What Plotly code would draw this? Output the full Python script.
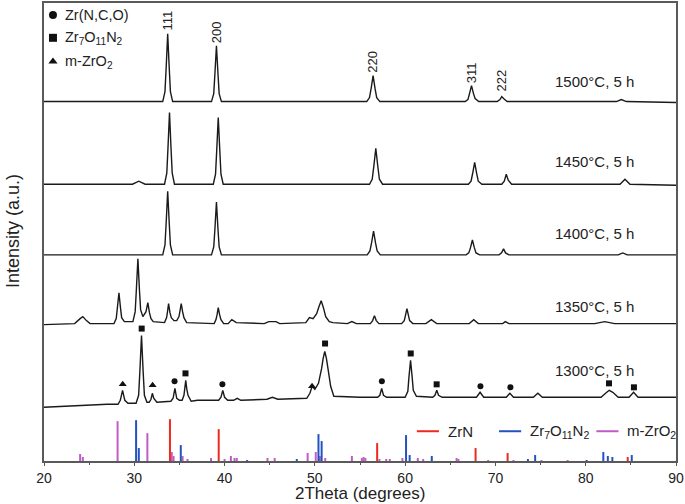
import plotly.graph_objects as go

# --- XRD traces (2theta, stacked intensity in a.u.) ---
X_1500 = [20,
          33.15, 33.4, 33.53, 33.7, 33.87, 34.0, 34.25,
          38.55, 38.8, 38.93, 39.1, 39.27, 39.4, 39.65,
          55.75, 56.05, 56.23, 56.45, 56.67, 56.85, 57.2,
          66.65, 66.95, 67.13, 67.35, 67.57, 67.75, 68.15,
          70.2, 70.5, 70.7, 70.9, 71.3,
          83.4, 83.95, 84.5, 90]
Y_1500 = [361,
          361, 371, 395, 429, 395, 371, 361,
          361, 369, 389, 417, 389, 369, 361,
          361, 365, 374, 387, 374, 365, 361,
          361, 363, 369, 377, 369, 364, 361,
          361, 363, 366, 364, 361,
          361, 363, 361, 360]

X_1450 = [20, 29.8, 30.5, 31.2,
          33.35, 33.6, 33.73, 33.9, 34.07, 34.2, 34.45,
          38.75, 39.0, 39.13, 39.3, 39.47, 39.6, 39.85,
          56.05, 56.35, 56.53, 56.75, 56.97, 57.15, 57.5,
          67.0, 67.3, 67.48, 67.7, 67.92, 68.1, 68.5,
          70.7, 70.98, 71.2, 71.42, 71.8,
          83.8, 84.35, 84.9, 90]
Y_1450 = [278, 278, 281, 278,
          278, 289, 314, 350, 314, 289, 278,
          278, 288, 312, 345, 312, 288, 278,
          278, 283, 296, 314, 296, 283, 278,
          278, 281, 289, 300, 289, 281, 278,
          278, 281, 288, 282, 278,
          278, 283, 278, 277]

X_1400 = [20,
          33.15, 33.4, 33.53, 33.7, 33.87, 34.0, 34.25,
          38.55, 38.8, 38.93, 39.1, 39.27, 39.4, 39.65,
          55.8, 56.1, 56.28, 56.5, 56.72, 56.9, 57.25,
          66.75, 67.05, 67.23, 67.45, 67.67, 67.85, 68.25,
          70.4, 70.68, 70.9, 71.12, 71.5,
          83.6, 84.1, 84.6, 90]
Y_1400 = [207,
          207, 217, 239, 271, 239, 217, 207,
          207, 215, 233, 260, 233, 215, 207,
          207, 211, 219, 231, 219, 211, 207,
          207, 209, 214, 222, 214, 209, 207,
          207, 209, 213, 209, 207,
          207, 209, 207, 207]

X_1350 = [20, 23.4, 24.0, 24.3, 24.7, 25.1,
          27.75, 28.0, 28.13, 28.3, 28.47, 28.6, 28.9,
          29.85, 30.1, 30.23, 30.4, 30.57, 30.7, 30.95,
          31.3, 31.5, 31.68, 31.85, 32.1,
          33.35, 33.58, 33.68, 33.8, 33.95, 34.1, 34.4,
          34.7, 34.95, 35.07, 35.2, 35.35, 35.5, 35.8,
          38.85, 39.05, 39.17, 39.3, 39.45, 39.6, 39.9,
          40.4, 40.8, 41.3, 44.4, 44.9, 45.7, 46.1,
          49.0, 49.4, 49.8, 50.2, 50.45, 50.7, 50.95, 51.2, 51.6, 52.0,
          53.6, 54.1, 54.6,
          56.15, 56.4, 56.6, 56.8, 57.1,
          59.6, 59.9, 60.03, 60.2, 60.37, 60.5, 60.85,
          62.3, 62.9, 63.5, 67.1, 67.6, 68.1, 70.8, 71.1, 71.5,
          81.0, 82.1, 83.2, 90]
Y_1350 = [137, 138, 143, 145, 141, 138,
          138, 143, 154, 169, 154, 144, 140,
          140, 150, 172, 203, 172, 152, 145,
          150, 159, 149, 143, 140,
          139, 144, 150, 158, 149, 144, 141,
          141, 145, 151, 158, 150, 144, 139,
          138, 142, 147, 154, 147, 142, 138,
          138, 142, 139, 138, 140, 140, 138,
          139, 144, 143, 148, 155, 161, 154, 145, 140, 139,
          138, 140, 138,
          138, 141, 146, 141, 138,
          138, 141, 146, 153, 146, 141, 138,
          138, 142, 138, 138, 142, 138, 138, 140, 138,
          138, 140, 138, 138]

X_1300 = [20, 27.0,
          28.2, 28.45, 28.55, 28.7, 28.85, 28.95, 29.3,
          30.2, 30.48, 30.62, 30.8, 30.98, 31.12, 31.4,
          31.65, 31.85, 32.0, 32.15, 32.5,
          34.05, 34.3, 34.5, 34.7, 35.0,
          35.3, 35.5, 35.58, 35.7, 35.82, 35.95, 36.3, 37.0,
          39.35, 39.6, 39.8, 40.0, 40.35,
          41.0, 41.4, 41.8, 44.7, 45.3, 45.9,
          49.1, 49.45, 49.7, 50.0, 50.4, 50.75, 50.92, 51.1, 51.28, 51.45, 51.75, 52.1, 55.0,
          56.95, 57.2, 57.4, 57.6, 57.95,
          60.0, 60.3, 60.42, 60.6, 60.78, 60.9, 61.25,
          63.05, 63.3, 63.5, 63.7, 64.1,
          67.9, 68.3, 68.7, 71.2, 71.6, 72.0, 74.2, 74.7, 75.2,
          81.7, 82.2, 82.6, 83.0, 83.6, 84.8, 85.3, 85.8, 90]
Y_1300 = [54, 57,
          57, 61, 65, 71, 65, 61, 58,
          58, 66, 90, 126, 90, 66, 59,
          59, 62, 68, 63, 59,
          60, 63, 73, 63, 61,
          61, 66, 72, 81, 72, 66, 60, 61,
          61, 64, 71, 64, 61,
          61, 63, 61, 62, 64, 62,
          63, 68, 75, 72, 78, 93, 103, 110, 103, 93, 75, 65, 64,
          64, 66, 73, 66, 64,
          64, 70, 84, 101, 84, 71, 65,
          64, 66, 71, 66, 64,
          64, 69, 64, 64, 68, 64, 64, 68, 64,
          64, 68, 71, 69, 64, 64, 69, 64, 64]

SAMPLES = ["1500°C, 5 h", "1450°C, 5 h", "1400°C, 5 h", "1350°C, 5 h", "1300°C, 5 h"]
SAMPLE_LABEL_Y = [381, 301, 229, 155, 91]

# hkl reflections of the 1500 °C pattern
HKL = ["111", "200", "220", "311", "222"]
HKL_X = [33.7, 39.1, 56.45, 67.35, 70.7]
HKL_Y = [442, 431, 401, 390, 382]

# phase markers on the 1300 °C pattern
CIRCLE_X = [34.46, 39.76, 57.42, 68.34, 71.66]
CIRCLE_Y = [80, 77, 80, 75, 74]
SQUARE_X = [30.82, 35.67, 51.13, 60.62, 63.49, 82.58, 85.34]
SQUARE_Y = [133, 88, 118, 108, 77, 78, 74]
TRIANGLE_X = [28.72, 32.03, 49.69]
TRIANGLE_Y = [77, 76, 75]

# reference stick patterns
ZRN_POS = [33.95, 39.35, 56.9, 67.8, 71.35, 84.65]
ZRN_H = [42, 32, 18, 13, 8, 4]
ZR7_POS = [30.2, 30.5, 35.15, 42.5, 48.0, 50.4, 50.75, 60.1, 60.5, 62.95, 73.6, 74.4,
           80.1, 81.95, 82.45, 82.95, 85.1]
ZR7_H = [41, 13, 16, 1, 2, 27, 20, 26, 6, 5, 2, 6, 1, 9, 5, 4, 6]
ZRO2_POS = [24.0, 24.3, 28.15, 31.45, 34.15, 34.35, 35.35, 35.9, 38.5, 40.0, 40.7, 41.1,
            41.35, 44.75, 45.55, 49.2, 50.1, 50.55, 51.15, 54.1, 55.2, 55.4, 55.6, 57.15,
            57.9, 58.3, 59.7, 61.4, 62.0, 65.7, 65.9, 69.2, 72.0, 75.1, 78.0]
ZRO2_H = [7, 4, 40, 28, 9, 5, 5, 2, 3, 2, 5, 3, 3, 3, 3, 8, 9, 5, 3, 5, 3, 4, 3, 2,
          2, 2, 3, 3, 2, 3, 2, 1, 1, 1, 1]

FONT = "Liberation Sans, Arial, sans-serif"
TXT = "#222222"
RED, BLUE, PURPLE = "#ee2a1e", "#2452c2", "#c15bc6"


def sticks(pos, h):
    xs, ys = [], []
    for p, v in zip(pos, h):
        xs += [p, p, None]
        ys += [0, v, None]
    return xs, ys


fig = go.Figure()

for pos, h, col in [(ZRO2_POS, ZRO2_H, PURPLE), (ZR7_POS, ZR7_H, BLUE), (ZRN_POS, ZRN_H, RED)]:
    sx, sy = sticks(pos, h)
    fig.add_trace(go.Scatter(x=sx, y=sy, mode="lines", line=dict(color=col, width=2),
                             showlegend=False, hoverinfo="skip"))

for xs, ys in [(X_1500, Y_1500), (X_1450, Y_1450), (X_1400, Y_1400),
               (X_1350, Y_1350), (X_1300, Y_1300)]:
    fig.add_trace(go.Scatter(x=xs, y=ys, mode="lines",
                             line=dict(color="#1a1a1a", width=1.4, simplify=False),
                             showlegend=False))

for xs, ys, sym, size in [(CIRCLE_X, CIRCLE_Y, "circle", 6),
                          (SQUARE_X, SQUARE_Y, "square", 6),
                          (TRIANGLE_X, TRIANGLE_Y, "triangle-up", 7)]:
    fig.add_trace(go.Scatter(x=xs, y=ys, mode="markers",
                             marker=dict(symbol=sym, size=size, color="#111111"),
                             showlegend=False))

# hand-drawn keys on an overlay axis spanning the plot area (0..1)
KEY_SYMBOLS = ["circle", "square", "triangle-up"]
KEY_NAMES = ["Zr(N,C,O)", "Zr<sub>7</sub>O<sub>11</sub>N<sub>2</sub>", "m-ZrO<sub>2</sub>"]
KEY_Y = [0.974, 0.924, 0.872]
for sym, name, ky in zip(KEY_SYMBOLS, KEY_NAMES, KEY_Y):
    fig.add_trace(go.Scatter(x=[0.0142], y=[ky], xaxis="x2", yaxis="y2", mode="markers",
                             marker=dict(symbol=sym, size=8, color="#111111"),
                             showlegend=False))
    fig.add_annotation(x=0.030, y=ky, xref="x2", yref="y2", text=name, showarrow=False,
                       xanchor="left", yanchor="middle", font=dict(size=14.5, color=TXT))

LINE_KEYS = [("ZrN", RED, 0.590), ("Zr<sub>7</sub>O<sub>11</sub>N<sub>2</sub>", BLUE, 0.720),
             ("m-ZrO<sub>2</sub>", PURPLE, 0.874)]
for name, col, kx in LINE_KEYS:
    fig.add_trace(go.Scatter(x=[kx, kx + 0.035], y=[0.065, 0.065], xaxis="x2", yaxis="y2",
                             mode="lines", line=dict(color=col, width=2), showlegend=False))
    fig.add_annotation(x=kx + 0.046, y=0.065, xref="x2", yref="y2", text=name,
                       showarrow=False, xanchor="left", yanchor="middle",
                       font=dict(size=15, color=TXT))

for lab, ly in zip(SAMPLES, SAMPLE_LABEL_Y):
    fig.add_annotation(x=76.4, y=ly, text=lab, showarrow=False, xanchor="left",
                       yanchor="middle", font=dict(size=15, color=TXT))

for lab, hx, hy in zip(HKL, HKL_X, HKL_Y):
    fig.add_annotation(x=hx, y=hy, text=lab, showarrow=False, textangle=-90,
                       xanchor="center", yanchor="middle", font=dict(size=13, color=TXT))

fig.add_annotation(x=0.5, y=-0.071, xref="paper", yref="paper", text="2Theta (degrees)",
                   showarrow=False, yanchor="middle", font=dict(size=17, color=TXT))
fig.add_annotation(x=-0.049, y=0.502, xref="paper", yref="paper", text="Intensity (a.u.)",
                   showarrow=False, textangle=-90, xanchor="center", yanchor="middle",
                   font=dict(size=18, color=TXT))

fig.update_layout(
    width=685, height=504,
    margin=dict(l=44, r=8, t=1, b=43),
    paper_bgcolor="white", plot_bgcolor="white",
    font=dict(family=FONT, color=TXT),
    xaxis=dict(range=[20, 90], dtick=10, ticks="outside", ticklen=3, tickwidth=1.2,
               tickcolor="#555555", tickfont=dict(size=14, color=TXT),
               minor=dict(dtick=5, ticks="outside", ticklen=2, tickcolor="#555555"),
               showline=True, mirror=True, linecolor="#5a5a5a", linewidth=1.5,
               showgrid=False, zeroline=False),
    yaxis=dict(range=[0, 460], showticklabels=False, ticks="", showline=True, mirror=True,
               linecolor="#5a5a5a", linewidth=1.5, showgrid=False, zeroline=False),
    xaxis2=dict(overlaying="x", range=[0, 1], visible=False),
    yaxis2=dict(overlaying="y", range=[0, 1], visible=False),
)

# the page body has a default 8px margin; drop it so the figure sits at the window corner
fig.write_html("out.html", config={"displayModeBar": False},
               post_script="document.body.style.margin='0';document.body.style.overflow='hidden';")
